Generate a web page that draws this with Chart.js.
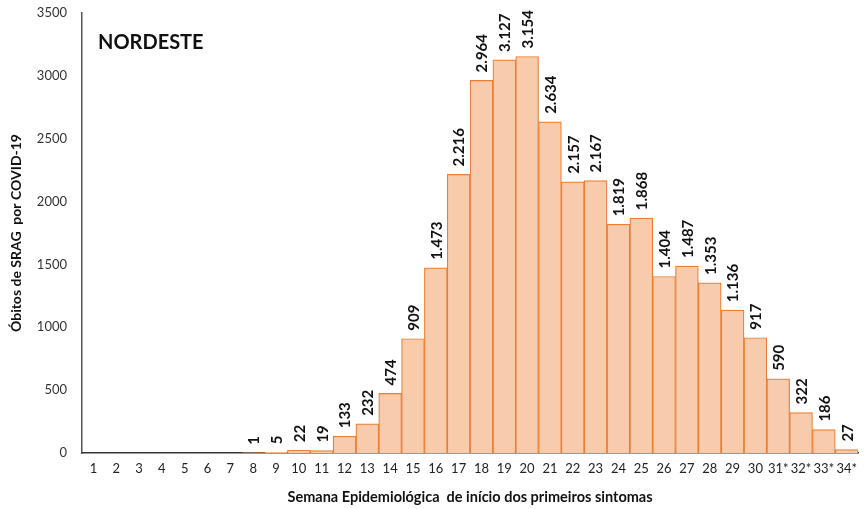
<!DOCTYPE html>
<html>
<head>
<meta charset="utf-8">
<script src="https://cdn.jsdelivr.net/npm/chart.js@4"></script>
<style>
  html, body { margin: 0; padding: 0; background: #fff; }
  #wrap { width: 865px; height: 509px; position: relative; }
</style>
</head>
<body>
<div id="wrap"><canvas id="chart"></canvas></div>
<script>
// semanas epidemiologicas
const weeks = ['1','2','3','4','5','6','7','8','9','10','11','12','13','14','15','16','17',
  '18','19','20','21','22','23','24','25','26','27','28','29','30','31*','32*','33*','34*'];
// obitos por semana (null = sem registro)
const deaths = [null, null, null, null, null, null, null, 1, 5, 22, 19, 133, 232, 474, 909, 1473, 2216,
  2964, 3127, 3154, 2634, 2157, 2167, 1819, 1868, 1404, 1487, 1353, 1136, 917, 590, 322, 186, 27];
const yTicks = [0, 500, 1000, 1500, 2000, 2500, 3000, 3500];

const FONT = 'Lato, "Open Sans", sans-serif';

function fmt(v) {
  return v.toString().replace(/\B(?=(\d{3})+(?!\d))/g, '.');
}

// rotulos verticais acima das barras
const barLabels = {
  id: 'barLabels',
  afterDatasetsDraw(chart) {
    const ctx = chart.ctx;
    const meta = chart.getDatasetMeta(0);
    ctx.save();
    ctx.font = 'bold 15px ' + FONT;
    ctx.fillStyle = '#111';
    ctx.textAlign = 'left';
    ctx.textBaseline = 'middle';
    meta.data.forEach((bar, i) => {
      const v = deaths[i];
      if (v === null) return;
      ctx.save();
      ctx.translate(bar.x + 1, bar.y - 8);
      ctx.rotate(-Math.PI / 2);
      ctx.fillText(fmt(v), 0, 0);
      ctx.restore();
    });
    // titulo da regiao
    ctx.font = 'bold 20px ' + FONT;
    ctx.fillStyle = '#111';
    ctx.textAlign = 'left';
    ctx.textBaseline = 'alphabetic';
    ctx.fillText('NORDESTE', 98, 49);
    ctx.restore();
  }
};

const chart = document.getElementById('chart').getContext('2d');
new Chart(chart, {
  type: 'bar',
  data: {
    labels: weeks,
    datasets: [{
      data: deaths,
      backgroundColor: '#F8CBAD',
      borderColor: '#ED7D31',
      borderWidth: 1.2,
      barPercentage: 1,
      categoryPercentage: 1
    }]
  },
  options: {
    responsive: true,
    maintainAspectRatio: false,
    animation: false,
    layout: { padding: { top: 0, right: 0, left: 0, bottom: 0 } },
    plugins: {
      legend: { display: false },
      tooltip: { enabled: false }
    },
    scales: {
      x: {
        grid: { display: false, drawTicks: false },
        border: { color: '#333', width: 1.5 },
        ticks: { color: '#222', font: { family: FONT, size: 13 }, padding: 8, maxRotation: 0, autoSkip: false },
        title: {
          display: true,
          text: 'Semana Epidemiológica  de início dos primeiros sintomas',
          color: '#111',
          font: { family: FONT, size: 14.5, weight: 'bold' },
          padding: { top: 4, bottom: 3 }
        }
      },
      y: {
        min: 0,
        max: 3500,
        afterBuildTicks: (axis) => { axis.ticks = yTicks.map(v => ({ value: v })); },
        afterFit: (axis) => { axis.width = 82; axis.paddingTop = 13; },
        grid: { display: false, drawTicks: false },
        border: { color: '#555', width: 1.5 },
        ticks: { color: '#333', font: { family: FONT, size: 13 }, padding: 15, callback: (v) => String(v) },
        title: {
          display: true,
          text: 'Óbitos de SRAG  por COVID-19',
          color: '#111',
          font: { family: FONT, size: 14, weight: 'bold' },
          padding: { top: 8, bottom: 4 }
        }
      }
    }
  },
  plugins: [barLabels]
});
</script>
</body>
</html>
